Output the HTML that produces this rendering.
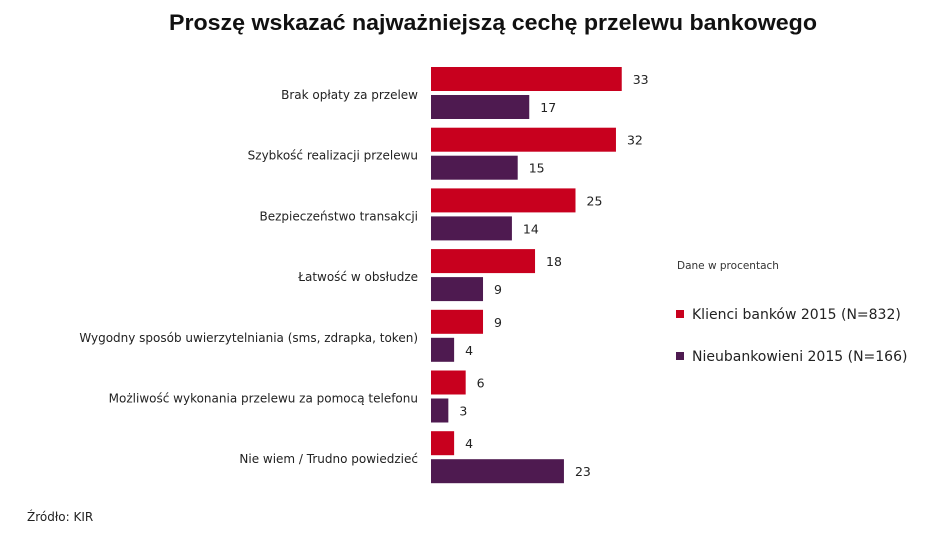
<!DOCTYPE html>
<html><head><meta charset="utf-8"><style>
body{margin:0;background:#fff;}
svg{display:block;font-family:"DejaVu Sans","Liberation Sans",sans-serif;}
</style></head><body>
<svg id="chart" width="929" height="542" viewBox="0 0 929 542">
<text x="493" y="30" text-anchor="middle" font-family="Liberation Sans, sans-serif" font-weight="bold" font-size="22" textLength="648" lengthAdjust="spacingAndGlyphs" fill="#111">Proszę wskazać najważniejszą cechę przelewu bankowego</text>
<text x="677" y="269" font-size="10.5" fill="#333">Dane w procentach</text>
<g><rect x="676" y="310" width="8" height="8" fill="#c8001e"/><text x="692" y="319" font-size="14" fill="#222">Klienci banków 2015 (N=832)</text></g>
<g><rect x="676" y="352" width="8" height="8" fill="#4e1a50"/><text x="692" y="361" font-size="14" fill="#222">Nieubankowieni 2015 (N=166)</text></g>
<text x="27" y="521" font-size="12" fill="#222">Źródło: KIR</text>
<g id="bars"></g>
</svg>
<script>
const categories=["Brak opłaty za przelew","Szybkość realizacji  przelewu","Bezpieczeństwo transakcji","Łatwość w obsłudze","Wygodny sposób uwierzytelniania  (sms, zdrapka, token)","Możliwość wykonania przelewu za pomocą telefonu","Nie wiem / Trudno powiedzieć"];
const klienci=[33,32,25,18,9,6,4];
const nieubankowieni=[17,15,14,9,4,3,23];
const x0=431, scale=5.78, topY=67, step=60.7, bh=24;
const xs=v=>x0+v*scale;
const ns="http://www.w3.org/2000/svg";
const g=document.getElementById('bars');
function mk(t,a){const e=document.createElementNS(ns,t);for(const k in a)e.setAttribute(k,a[k]);g.appendChild(e);return e;}
categories.forEach((c,i)=>{
  const y=topY+i*step;
  const l=mk('text',{x:418,y:y+32,'text-anchor':'end','font-size':12,fill:'#222'});l.textContent=c;
  
  
  [[klienci,'#c8001e',0,'bar-klienci'],[nieubankowieni,'#4e1a50',28,'bar-nieubankowieni']].forEach(([arr,col,off,nm])=>{
    const r=mk('rect',{x:x0,y:y+off,width:xs(arr[i])-x0,height:bh,fill:col});
    
    
    const t=mk('text',{x:xs(arr[i])+11,y:y+off+17,'font-size':12.5,fill:'#222'});t.textContent=arr[i];
    
    
  });
});
</script>
</body></html>
